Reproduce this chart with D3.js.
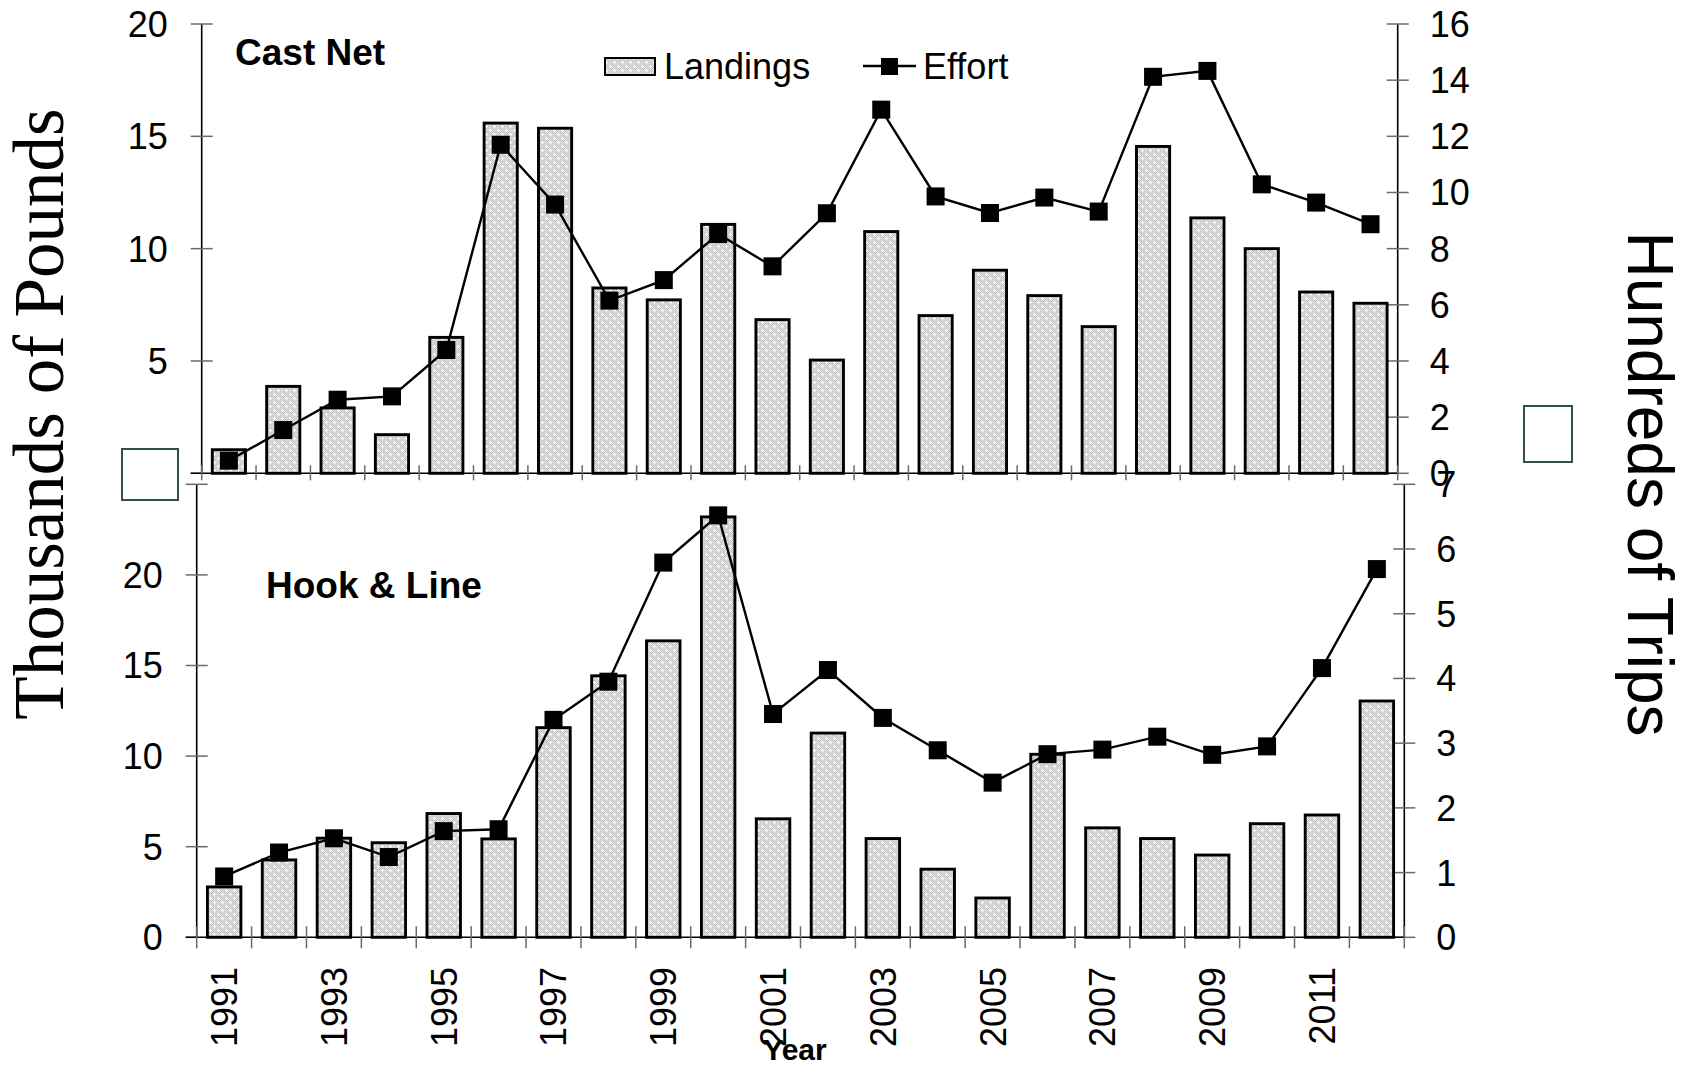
<!DOCTYPE html>
<html>
<head>
<meta charset="utf-8">
<script src="https://cdn.jsdelivr.net/npm/d3@7"></script>
<style>
  html, body { margin: 0; padding: 0; background: #fff; }
  svg { display: block; }
  text { font-family: "Liberation Sans", Arial, sans-serif; fill: #000; }
</style>
</head>
<body>
<div id="chart"></div>
<script>
// ---------------- data ----------------
const years = [1991,1992,1993,1994,1995,1996,1997,1998,1999,2000,2001,2002,2003,2004,2005,2006,2007,2008,2009,2010,2011,2012];
const yearTickLabels = [1991,1993,1995,1997,1999,2001,2003,2005,2007,2009,2011];

// Cast Net: landings (thousands of pounds), effort (hundreds of trips)
const castLandings = [1.05,3.87,2.91,1.72,6.05,15.59,15.36,8.25,7.72,11.08,6.84,5.04,10.76,7.02,9.04,7.91,6.53,14.55,11.37,10.0,8.07,7.57];
const castEffort   = [0.45,1.54,2.62,2.74,4.39,11.7,9.57,6.15,6.88,8.52,7.37,9.26,12.95,9.86,9.27,9.82,9.32,14.12,14.33,10.29,9.64,8.87];

// Hook & Line
const hookLandings = [2.78,4.27,5.47,5.22,6.83,5.43,11.57,14.43,16.36,23.2,6.54,11.27,5.45,3.76,2.17,10.1,6.04,5.45,4.54,6.27,6.75,13.04];
const hookEffort   = [0.94,1.31,1.53,1.24,1.64,1.67,3.36,3.95,5.79,6.52,3.45,4.13,3.39,2.89,2.39,2.83,2.9,3.1,2.82,2.95,4.16,5.69];

const castLeftTicks  = [5,10,15,20];
const castRightTicks = [0,2,4,6,8,10,12,14,16];
const hookLeftTicks  = [0,5,10,15,20,25];
const hookLeftLabels = [0,5,10,15,20];
const hookRightTicks = [0,1,2,3,4,5,6,7];

// ---------------- drawing ----------------
const W = 1690, H = 1067;
const svg = d3.select("#chart").append("svg").attr("width", W).attr("height", H);
svg.append("rect").attr("width", W).attr("height", H).attr("fill", "#fff");

// dotted gray fill pattern
const defs = svg.append("defs");
const pat = defs.append("pattern").attr("id", "dots").attr("patternUnits", "userSpaceOnUse")
  .attr("width", 8).attr("height", 8);
pat.append("rect").attr("width", 8).attr("height", 8).attr("fill", "#dedede");
for (let i = 0; i < 8; i++) for (let j = 0; j < 8; j++) {
  if ((i + j) % 2 === 0) pat.append("rect").attr("x", i).attr("y", j).attr("width", 1).attr("height", 1).attr("fill", "#c8c8c8");
}
[[2,2],[6,6]].forEach(([cx, cy]) => {
  [[0,0],[1,0],[-1,0],[0,1],[0,-1]].forEach(([dx, dy]) =>
    pat.append("rect").attr("x", cx + dx).attr("y", cy + dy).attr("width", 1).attr("height", 1).attr("fill", "#fff"));
});

const tickColor = "#6a6a6a";
const tickFont = 36;

function panel(cfg) {
  const g = svg.append("g");
  const x = d3.scaleBand().domain(years).range([cfg.left, cfg.right]).paddingInner(0.39).paddingOuter(0.195);
  const step = x.step();
  const yL = d3.scaleLinear().domain([0, cfg.leftMax]).range([cfg.bottom, cfg.top]);
  const yR = d3.scaleLinear().domain([0, cfg.rightMax]).range([cfg.bottom, cfg.top]);

  // left axis
  const axL = d3.axisLeft(yL).tickValues(cfg.leftTicks).tickSize(0).tickFormat("");
  const gL = g.append("g").attr("transform", `translate(${cfg.left},0)`).call(axL);
  gL.select(".domain").remove();
  g.append("line").attr("x1", cfg.left).attr("x2", cfg.left).attr("y1", cfg.top).attr("y2", cfg.bottom)
    .attr("stroke", "#000").attr("stroke-width", 1.6);
  cfg.leftTicks.forEach(v => {
    g.append("line").attr("x1", cfg.left - 11).attr("x2", cfg.left + (v === 0 ? 0 : 11))
      .attr("y1", yL(v)).attr("y2", yL(v)).attr("stroke", tickColor).attr("stroke-width", 1.5);
  });
  cfg.leftLabels.forEach(v => {
    g.append("text").attr("x", cfg.left - 34).attr("y", yL(v)).attr("dy", "0.36em")
      .attr("text-anchor", "end").attr("font-size", tickFont).text(v);
  });

  // right axis
  g.append("line").attr("x1", cfg.right).attr("x2", cfg.right).attr("y1", cfg.top).attr("y2", cfg.bottom)
    .attr("stroke", "#000").attr("stroke-width", 1.6);
  cfg.rightTicks.forEach(v => {
    g.append("line").attr("x1", cfg.right - 11).attr("x2", cfg.right + 11)
      .attr("y1", yR(v)).attr("y2", yR(v)).attr("stroke", tickColor).attr("stroke-width", 1.5);
    g.append("text").attr("x", cfg.right + 32).attr("y", yR(v)).attr("dy", "0.36em")
      .attr("text-anchor", "start").attr("font-size", tickFont).text(v);
  });

  // x baseline + boundary ticks
  g.append("line").attr("x1", cfg.left - 11).attr("x2", cfg.right).attr("y1", cfg.bottom).attr("y2", cfg.bottom)
    .attr("stroke", "#000").attr("stroke-width", 1.6);
  d3.range(years.length + 1).forEach(i => {
    const bx = cfg.left + i * step;
    g.append("line").attr("x1", bx).attr("x2", bx).attr("y1", cfg.bottom - cfg.xTickUp).attr("y2", cfg.bottom + cfg.xTickDown)
      .attr("stroke", tickColor).attr("stroke-width", 1.5);
  });

  // bars
  g.selectAll("rect.bar").data(cfg.landings).join("rect").attr("class", "bar")
    .attr("x", (d, i) => x(years[i]))
    .attr("width", x.bandwidth())
    .attr("y", d => yL(d))
    .attr("height", d => yL(0) - yL(d))
    .attr("fill", "url(#dots)").attr("stroke", "#000").attr("stroke-width", 2.9);

  // effort line + markers
  const line = d3.line().x((d, i) => x(years[i]) + x.bandwidth() / 2).y(d => yR(d));
  g.append("path").datum(cfg.effort).attr("d", line).attr("fill", "none").attr("stroke", "#000").attr("stroke-width", 2.4);
  const ms = 18;
  g.selectAll("rect.mk").data(cfg.effort).join("rect").attr("class", "mk")
    .attr("x", (d, i) => x(years[i]) + x.bandwidth() / 2 - ms / 2)
    .attr("y", d => yR(d) - ms / 2)
    .attr("width", ms).attr("height", ms).attr("fill", "#000");

  // panel title
  g.append("text").attr("x", cfg.titleX).attr("y", cfg.titleY).attr("font-size", 37).attr("font-weight", "bold").text(cfg.title);

  return { x, yL, yR };
}

panel({
  left: 201.7, right: 1397.7, top: 24, bottom: 473.3,
  leftMax: 20, rightMax: 16,
  leftTicks: [0, ...castLeftTicks], leftLabels: castLeftTicks, rightTicks: castRightTicks,
  landings: castLandings, effort: castEffort,
  xTickUp: 8, xTickDown: 7,
  title: "Cast Net", titleX: 235, titleY: 65
});

const bottomPanel = panel({
  left: 196.7, right: 1404.3, top: 484.3, bottom: 937.3,
  leftMax: 25, rightMax: 7,
  leftTicks: hookLeftTicks, leftLabels: hookLeftLabels, rightTicks: hookRightTicks,
  landings: hookLandings, effort: hookEffort,
  xTickUp: 11, xTickDown: 11,
  title: "Hook & Line", titleX: 266, titleY: 598
});

// x tick labels (rotated)
yearTickLabels.forEach(yr => {
  const cx = bottomPanel.x(yr) + bottomPanel.x.bandwidth() / 2;
  svg.append("text").attr("transform", `translate(${cx},967) rotate(-90)`)
    .attr("text-anchor", "end").attr("dy", "0.36em").attr("font-size", tickFont).text(yr);
});

// x axis title
svg.append("text").attr("x", 795).attr("y", 1060).attr("text-anchor", "middle")
  .attr("font-size", 30).attr("font-weight", "bold").text("Year");

// legend
const lg = svg.append("g");
lg.append("rect").attr("x", 605).attr("y", 58).attr("width", 50).attr("height", 17)
  .attr("fill", "url(#dots)").attr("stroke", "#000").attr("stroke-width", 2);
lg.append("text").attr("x", 664).attr("y", 79).attr("font-size", 36).text("Landings");
lg.append("line").attr("x1", 863).attr("x2", 916).attr("y1", 66).attr("y2", 66).attr("stroke", "#000").attr("stroke-width", 2.4);
lg.append("rect").attr("x", 881).attr("y", 58).attr("width", 17).attr("height", 17).attr("fill", "#000");
lg.append("text").attr("x", 923).attr("y", 79).attr("font-size", 36).text("Effort");

// axis titles
svg.append("text").attr("transform", "translate(63,414) rotate(-90)").attr("text-anchor", "middle")
  .style("font-family", "'Liberation Serif', 'Times New Roman', serif").attr("font-size", 71).text("Thousands of Pounds");
svg.append("text").attr("transform", "translate(1628,484) rotate(90)").attr("text-anchor", "middle")
  .attr("font-size", 64).text("Hundreds of Trips");

// stray empty boxes
svg.append("rect").attr("x", 122).attr("y", 449).attr("width", 56).attr("height", 51)
  .attr("fill", "#fff").attr("stroke", "#2f4f4f").attr("stroke-width", 2);
svg.append("rect").attr("x", 1524).attr("y", 406).attr("width", 48).attr("height", 56)
  .attr("fill", "#fff").attr("stroke", "#2f4f4f").attr("stroke-width", 2);
</script>
</body>
</html>
